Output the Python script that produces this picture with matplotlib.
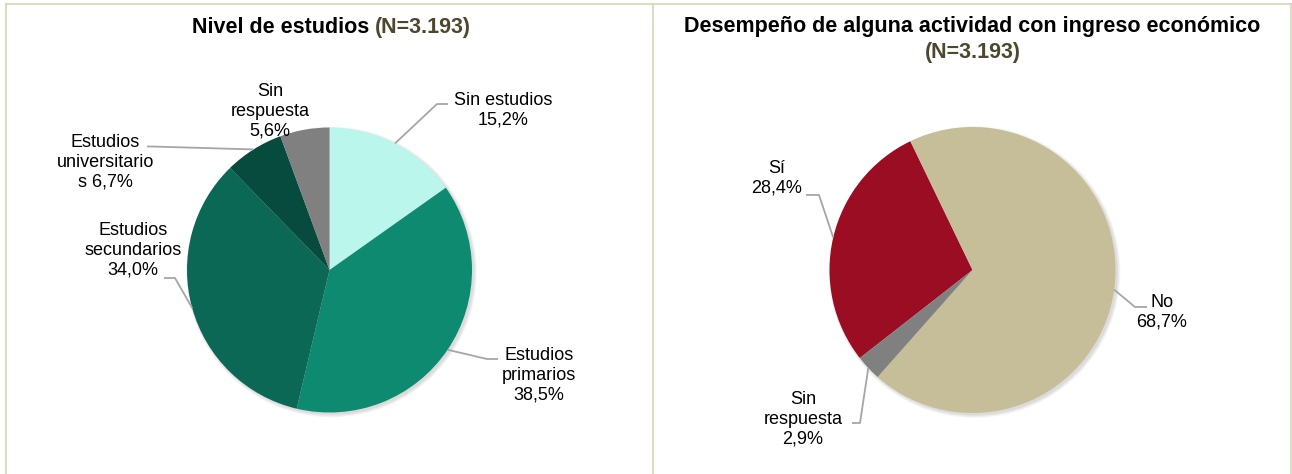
import matplotlib.pyplot as plt
import numpy as np
from matplotlib.patches import Circle

plt.rcParams['font.family'] = ['Liberation Sans', 'DejaVu Sans']

W, H = 1292, 474

# Nivel de estudios
edu_names = ["Sin estudios\n", "Estudios\nprimarios\n", "Estudios\nsecundarios\n",
             "Estudios\nuniversitario\ns ", "Sin\nrespuesta\n"]
edu_values = [15.2, 38.5, 34.0, 6.7, 5.6]
edu_colors = ["#BAF6EB", "#0E8A71", "#0B6855", "#074A3E", "#808080"]

# Desempeño de alguna actividad con ingreso económico
job_names = ["Sí\n", "No\n", "Sin\nrespuesta\n"]
job_values = [28.4, 68.7, 2.9]
job_colors = ["#9B0D22", "#C5BE98", "#808080"]

title_left = "Nivel de estudios "
title_right = "Desempeño de alguna actividad con ingreso económico"
n_text = "(N=3.193)"
olive = "#4D472C"
grey_line = "#A6A6A6"


def fy(y):
    # layout positions are measured from the top
    return H - y


def fmt(v):
    return ("%.1f%%" % v).replace(".", ",")


def draw_pie(ax, values, colors, center, radius, start):
    # soft shadow
    for i in range(6):
        ax.add_patch(Circle((center[0] + 2, center[1] - 2), radius + 3 - i * 0.6,
                            color="black", alpha=0.025, lw=0, zorder=1))
    wedges, _ = ax.pie(values, colors=colors, startangle=start, counterclock=False,
                       center=center, radius=radius, frame=True,
                       wedgeprops=dict(linewidth=0, zorder=2))
    pts = []
    for w in wedges:
        a = np.deg2rad((w.theta1 + w.theta2) / 2)
        pts.append((center[0] + radius * np.cos(a), center[1] + radius * np.sin(a)))
    return pts


def leader(ax, p0, path):
    xs = [p0[0]] + [p[0] for p in path]
    ys = [p0[1]] + [fy(p[1]) for p in path]
    ax.plot(xs, ys, color=grey_line, lw=1.3, zorder=3, solid_capstyle='butt')


fig = plt.figure(figsize=(W / 100, H / 100), dpi=100)
ax = fig.add_axes([0, 0, 1, 1])

c_left = (329.5, fy(270))
c_right = (972.5, fy(270))
pts_l = draw_pie(ax, edu_values, edu_colors, c_left, 142.5, 90)
pts_r = draw_pie(ax, job_values, job_colors, c_right, 143, 90 - 232)

ax.set_xlim(0, W)
ax.set_ylim(0, H)
ax.set_aspect('equal')
ax.axis('off')

lab = dict(fontsize=13, ha='center', va='center', color='black', linespacing=1.22, zorder=4)

# left labels
edu_pos = [(503, 110.5), (539, 375), (133, 250), (105.5, 162), (270, 111)]
for name, v, pos in zip(edu_names, edu_values, edu_pos):
    ax.text(pos[0], fy(pos[1]), name + fmt(v), **lab)
leader(ax, pts_l[0], [(437, 104), (448, 104)])
leader(ax, pts_l[1], [(487, 359), (498, 359)])
leader(ax, pts_l[2], [(175, 278), (164, 278)])
leader(ax, pts_l[3], [(152, 146.5), (147, 146.5)])

# right labels
job_pos = [(777, 178), (1162, 312), (803, 419)]
for name, v, pos in zip(job_names, job_values, job_pos):
    ax.text(pos[0], fy(pos[1]), name + fmt(v), **lab)
leader(ax, pts_r[0], [(819, 195), (806, 195)])
leader(ax, pts_r[1], [(1135, 307), (1147, 307)])
leader(ax, pts_r[2], [(860, 423), (852, 423)])

# titles
tl = ax.text(192, fy(27), title_left, fontsize=15.5, fontweight='bold', ha='left', va='center')
ax.annotate(n_text, xy=(1, 0), xycoords=tl, va='bottom', ha='left',
            fontsize=15.5, fontweight='bold', color=olive)
ax.text(c_right[0], fy(26), title_right, fontsize=15.5, fontweight='bold', ha='center', va='center')
ax.text(c_right[0], fy(52), n_text, fontsize=15.5, fontweight='bold', ha='center', va='center', color=olive)

# panel borders
bc = "#D9D4B6"
ax.plot([6, W], [fy(4), fy(4)], color=bc, lw=1.2)
for x in (6, 653, 1291):
    ax.plot([x, x], [fy(4), 0], color=bc, lw=1.2)

fig.savefig("out.png", dpi=100)
